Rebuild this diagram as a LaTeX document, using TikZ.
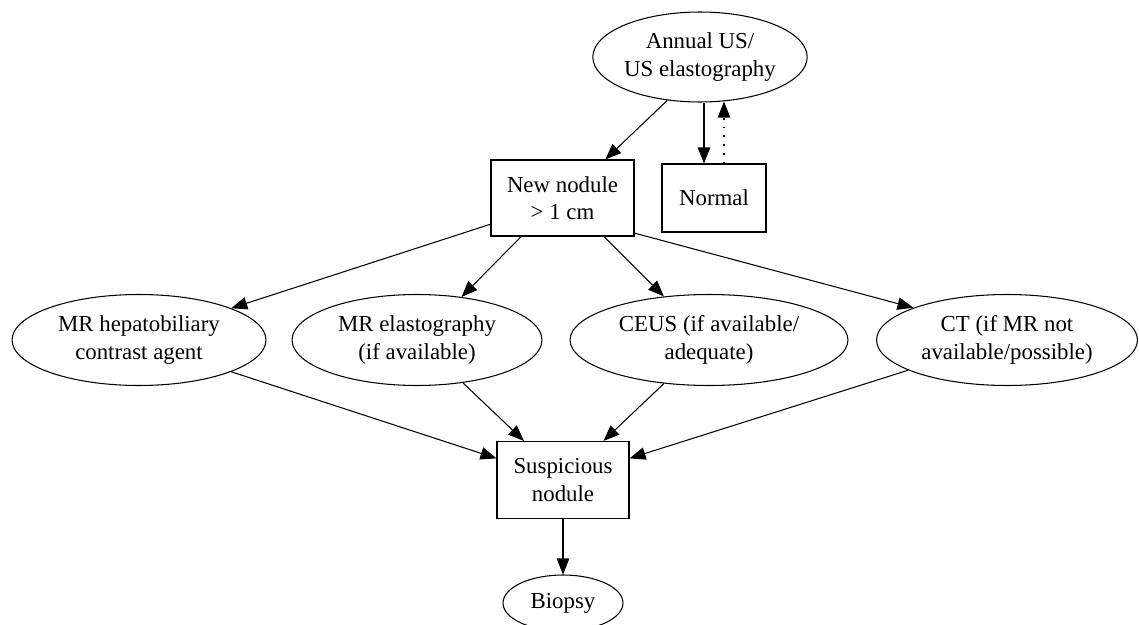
\documentclass[tikz,border=0pt]{standalone}
\usepackage{fontspec}
\setmainfont{Liberation Serif}
\usetikzlibrary{arrows.meta,shapes.geometric}

\tikzset{
    oval/.style={draw, ellipse, inner sep=0pt, align=center, minimum height=1.82cm},
    box/.style={draw, rectangle, inner sep=0pt, align=center},
    flow/.style={-{Triangle[length=0.32cm, width=0.25cm]}},
}

\begin{document}
\begin{tikzpicture}[x=0.02cm, y=-0.02cm, line width=0.6pt, font=\fontsize{13}{15.5}\selectfont]
        \useasboundingbox (0, 0) rectangle (1139, 625);
        \node[oval, minimum width=4.24cm, minimum height=1.8cm] (annual) at (700, 57) {Annual US/\\US elastography};
        \node[box, minimum width=2.86cm, minimum height=1.52cm] (new) at (562.5, 198) {New nodule\\> 1 cm};
        \node[box, minimum width=2.08cm, minimum height=1.36cm] (normal) at (714, 198) {Normal};
        \node[oval, minimum width=5.08cm] (mrh) at (139, 340) {MR hepatobiliary\\contrast agent};
        \node[oval, minimum width=5cm] (mre) at (417, 340) {MR elastography\\(if available)};
        \node[oval, minimum width=5.56cm] (ceus) at (709, 340) {CEUS (if available/\\adequate)};
        \node[oval, minimum width=5.22cm] (ct) at (1007, 340) {CT (if MR not\\available/possible)};
        \node[box, minimum width=2.64cm, minimum height=1.54cm] (susp) at (563, 480) {Suspicious\\nodule};
        \node[oval, minimum width=2.4cm, minimum height=1.12cm] (biopsy) at (563, 603) {Biopsy};

        \draw[flow] (annual.233) -- (new.42);
        \draw[flow] ([xshift=-0.2cm]normal.north |- annual.south) -- ([xshift=-0.2cm]normal.north);
        \draw[flow, dash pattern=on 1pt off 4pt] ([xshift=0.2cm]normal.north) -- ([xshift=0.2cm, yshift=0.02cm]normal.north |- annual.south);

        \draw[flow] (new.200) -- (mrh.19);
        \draw[flow] (new.223) -- (mre.44);
        \draw[flow] (new.-43) -- (ceus.136);
        \draw[flow] (new.-26) -- (ct.161);

        \draw[flow] (mrh.-19) -- (susp.162);
        \draw[flow] (mre.-43) -- (susp.135);
        \draw[flow] (ceus.224) -- (susp.44);
        \draw[flow] (ct.197) -- (susp.18);
        \draw[flow] (susp) -- (biopsy);
    \end{tikzpicture}
\end{document}
